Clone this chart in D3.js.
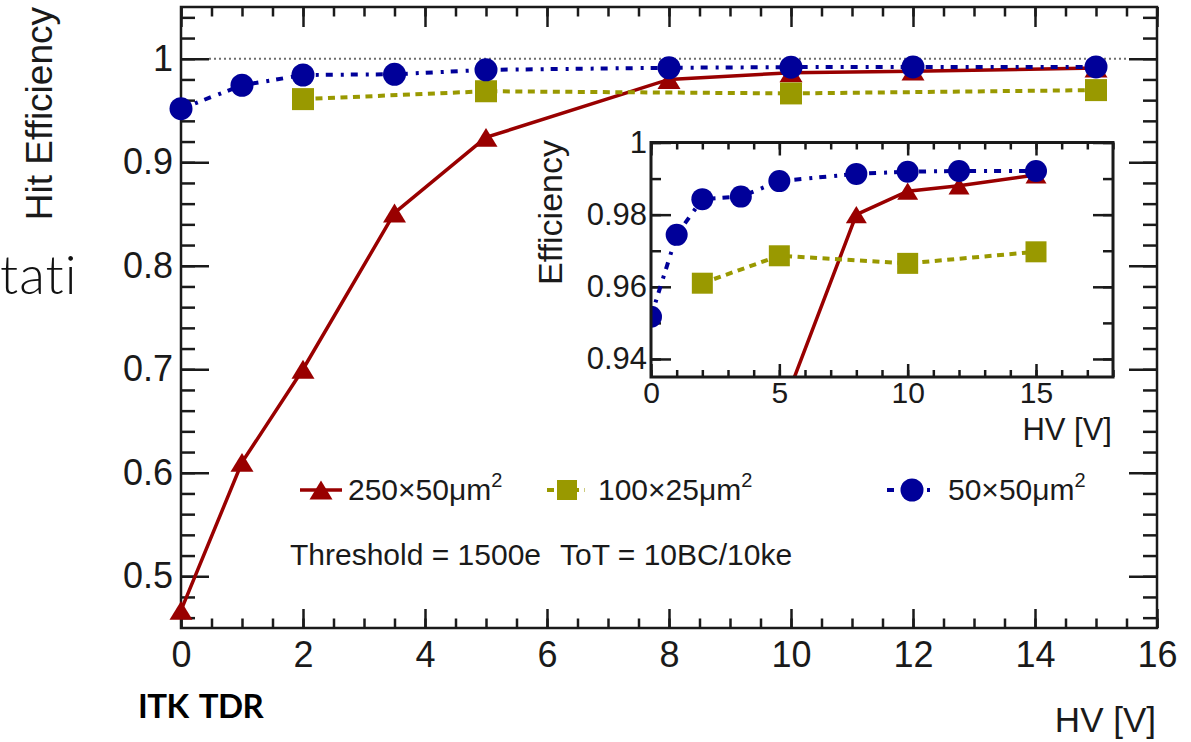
<!DOCTYPE html>
<html>
<head>
<meta charset="utf-8">
<script src="https://cdn.jsdelivr.net/npm/d3@7"></script>
<style>
  body { margin: 0; background: #fff; }
  svg { display: block; }
</style>
</head>
<body>
<svg id="chart" width="1191" height="742"></svg>
<script>
// Hit efficiency vs. bias voltage for three pixel geometries
const hv250  = [0, 1, 2, 3.5, 5, 8, 10, 12, 15];
const eff250 = [0.467, 0.61, 0.70, 0.851, 0.924, 0.980, 0.9865, 0.988, 0.991];
const hv100  = [2, 5, 10, 15];
const eff100 = [0.961, 0.9686, 0.9665, 0.9697];
const hv50   = [0, 1, 2, 3.5, 5, 8, 10, 12, 15];
const eff50  = [0.9517, 0.9744, 0.9843, 0.985, 0.9893, 0.9913, 0.9919, 0.9921, 0.9921];

const seriesLabels = ["250×50μm", "100×25μm", "50×50μm"];

const xTicks = [0, 2, 4, 6, 8, 10, 12, 14, 16];
const xTickLabels = ["0", "2", "4", "6", "8", "10", "12", "14", "16"];
const yTicks = [0.5, 0.6, 0.7, 0.8, 0.9, 1];
const yTickLabels = ["0.5", "0.6", "0.7", "0.8", "0.9", "1"];

const insetXTicks = [0, 5, 10, 15];
const insetXTickLabels = ["0", "5", "10", "15"];
const insetYTicks = [0.94, 0.96, 0.98, 1];
const insetYTickLabels = ["0.94", "0.96", "0.98", "1"];

const FONT = "'Liberation Sans', Arial, Helvetica, sans-serif";
const INK = "#1a1a1a";

const series = [
  { hv: hv250, eff: eff250, color: "#990000", shape: "triangle", dash: null,        width: 3.5 },
  { hv: hv100, eff: eff100, color: "#999900", shape: "square",   dash: "7,5.5",     width: 4 },
  { hv: hv50,  eff: eff50,  color: "#000099", shape: "circle",   dash: "7,8,3,7",   width: 4 }
];
series.forEach((s, i) => {
  s.label = seriesLabels[i];
  s.points = s.hv.map((v, j) => ({ hv: v, eff: s.eff[j] }));
});

const svg = d3.select("#chart");
svg.append("rect").attr("width", 1191).attr("height", 742).attr("fill", "#fff");

// ---------- helpers ----------
function marker(g, shape, cx, cy, size, color) {
  if (shape === "circle") {
    g.append("circle").attr("cx", cx).attr("cy", cy).attr("r", size / 2).attr("fill", color);
  } else if (shape === "square") {
    g.append("rect").attr("x", cx - size / 2).attr("y", cy - size / 2)
      .attr("width", size).attr("height", size).attr("fill", color);
  } else {
    const w = size, h = size * 0.82;
    g.append("path")
      .attr("d", `M${cx - w / 2},${cy + h / 2}L${cx + w / 2},${cy + h / 2}L${cx},${cy - h / 2}Z`)
      .attr("fill", color);
  }
}

function tickAxis(g, axisFn, scale, ticks, size, opts = {}) {
  const ax = axisFn(scale).tickValues(ticks).tickSize(-size)
    .tickPadding(opts.padding || 0)
    .tickFormat(opts.labels ? ((d, i) => opts.labels[i]) : () => "");
  const sel = g.append("g").attr("transform", opts.transform || null).call(ax);
  sel.select(".domain").remove();
  sel.selectAll(".tick line").attr("stroke", INK).attr("stroke-width", opts.tickWidth || 2.5);
  sel.selectAll(".tick text")
    .attr("fill", INK)
    .style("font-family", FONT)
    .style("font-size", (opts.fontSize || 36) + "px");
  return sel;
}

function minorRange(lo, hi, step) {
  const out = [];
  const n = Math.round((hi - lo) / step);
  for (let i = 0; i <= n; i++) out.push(+(lo + i * step).toFixed(6));
  return out;
}

// ---------- main frame ----------
const M = { left: 181, right: 1157, top: 7, bottom: 628 };
const x = d3.scaleLinear().domain([0, 16]).range([M.left, M.right]);
const y = d3.scaleLinear().domain([0.45, 1.05]).range([M.bottom, M.top]);

const main = svg.append("g");

// reference line at full efficiency
main.append("line")
  .attr("x1", M.left + 28).attr("x2", M.right - 28)
  .attr("y1", y(1)).attr("y2", y(1))
  .attr("stroke", "#6e6e6e").attr("stroke-width", 2)
  .attr("stroke-dasharray", "2,3");

// ticks (inward, on all four sides)
const xMinor = minorRange(0, 16, 0.5);
const yMinor = minorRange(0.46, 1.04, 0.02);
tickAxis(main, d3.axisBottom, x, xTicks, 19, { transform: `translate(0,${M.bottom})`, labels: xTickLabels, padding: 13, fontSize: 36 });
tickAxis(main, d3.axisBottom, x, xMinor, 9.5, { transform: `translate(0,${M.bottom})` });
tickAxis(main, d3.axisTop, x, xTicks, 20, { transform: `translate(0,${M.top})` });
tickAxis(main, d3.axisTop, x, xMinor, 9.5, { transform: `translate(0,${M.top})` });
tickAxis(main, d3.axisLeft, y, yTicks, 28, { transform: `translate(${M.left},0)`, labels: yTickLabels, padding: 8, fontSize: 36 });
tickAxis(main, d3.axisLeft, y, yMinor, 14, { transform: `translate(${M.left},0)` });
tickAxis(main, d3.axisRight, y, yTicks, 28, { transform: `translate(${M.right},0)` });
tickAxis(main, d3.axisRight, y, yMinor, 14, { transform: `translate(${M.right},0)` });

main.append("rect")
  .attr("x", M.left).attr("y", M.top)
  .attr("width", M.right - M.left).attr("height", M.bottom - M.top)
  .attr("fill", "none").attr("stroke", INK).attr("stroke-width", 2.5);

// axis titles
main.append("text")
  .attr("transform", `translate(52,${M.top}) rotate(-90)`)
  .attr("text-anchor", "end")
  .style("font-family", FONT).style("font-size", "37px").attr("fill", INK)
  .text("Hit Efficiency");
svg.append("text")
  .attr("x", 1156).attr("y", 732).attr("text-anchor", "end")
  .style("font-family", FONT).style("font-size", "35px").attr("fill", INK)
  .text("HV [V]");

// series in the main frame
const lineMain = d3.line().x(d => x(d.hv)).y(d => y(d.eff));
const mainSizes = { triangle: 23, square: 22, circle: 23 };
series.forEach(s => {
  main.append("path").datum(s.points)
    .attr("d", lineMain).attr("fill", "none")
    .attr("stroke", s.color).attr("stroke-width", s.width)
    .attr("stroke-dasharray", s.dash);
});
series.forEach(s => {
  const mg = main.append("g");
  s.points.forEach(p => marker(mg, s.shape, x(p.hv), y(p.eff), mainSizes[s.shape], s.color));
});

// ---------- legend ----------
const legendItems = [
  { s: series[0], x1: 300, x2: 342, mx: 321, tx: 348, size: 23 },
  { s: series[1], x1: 547, x2: 585, mx: 567, tx: 598, size: 20 },
  { s: series[2], x1: 887, x2: 930, mx: 912, tx: 948, size: 23 }
];
const lg = svg.append("g");
legendItems.forEach(it => {
  lg.append("line").attr("x1", it.x1).attr("x2", it.x2).attr("y1", 490).attr("y2", 490)
    .attr("stroke", it.s.color).attr("stroke-width", it.s.width)
    .attr("stroke-dasharray", it.s.dash);
  marker(lg, it.s.shape, it.mx, 490, it.size, it.s.color);
  const t = lg.append("text").attr("x", it.tx).attr("y", 500)
    .style("font-family", FONT).style("font-size", "30px").attr("fill", INK);
  t.append("tspan").text(it.s.label);
  t.append("tspan").attr("dy", -13).style("font-size", "20px").text("2");
});

svg.append("text").attr("x", 290).attr("y", 565)
  .style("font-family", FONT).style("font-size", "30px").attr("fill", INK)
  .text("Threshold = 1500e");
svg.append("text").attr("x", 560).attr("y", 565)
  .style("font-family", FONT).style("font-size", "30px").attr("fill", INK)
  .text("ToT = 10BC/10ke");

// ---------- inset: zoom on the plateau ----------
const I = { left: 651, right: 1113, top: 142.5, bottom: 377 };
const xi = d3.scaleLinear().domain([0, 18]).range([I.left, I.right]);
const yi = d3.scaleLinear().domain([0.935, 1]).range([I.bottom, I.top]);

const inset = svg.append("g");
inset.append("rect")
  .attr("x", I.left).attr("y", I.top)
  .attr("width", I.right - I.left).attr("height", I.bottom - I.top)
  .attr("fill", "#fff");

svg.append("defs").append("clipPath").attr("id", "insetClip")
  .append("rect")
  .attr("x", I.left).attr("y", I.top)
  .attr("width", I.right - I.left).attr("height", I.bottom - I.top);

const xiMinor = minorRange(0, 18, 1);
const yiMinor = minorRange(0.94, 1, 0.01);
tickAxis(inset, d3.axisBottom, xi, insetXTicks, 13, { transform: `translate(0,${I.bottom})`, labels: insetXTickLabels, padding: 5, fontSize: 30, tickWidth: 2.5 });
tickAxis(inset, d3.axisBottom, xi, xiMinor, 7, { transform: `translate(0,${I.bottom})` });
tickAxis(inset, d3.axisTop, xi, insetXTicks, 13, { transform: `translate(0,${I.top})` });
tickAxis(inset, d3.axisTop, xi, xiMinor, 7, { transform: `translate(0,${I.top})` });
tickAxis(inset, d3.axisLeft, yi, insetYTicks, 20, { transform: `translate(${I.left},0)`, labels: insetYTickLabels, padding: 4, fontSize: 31 });
tickAxis(inset, d3.axisLeft, yi, yiMinor, 10, { transform: `translate(${I.left},0)` });
tickAxis(inset, d3.axisRight, yi, insetYTicks, 20, { transform: `translate(${I.right},0)` });
tickAxis(inset, d3.axisRight, yi, yiMinor, 10, { transform: `translate(${I.right},0)` });

const plotI = inset.append("g").attr("clip-path", "url(#insetClip)");
const lineInset = d3.line().x(d => xi(d.hv)).y(d => yi(d.eff));
const insetSizes = { triangle: 21, square: 21, circle: 22 };
series.forEach(s => {
  plotI.append("path").datum(s.points)
    .attr("d", lineInset).attr("fill", "none")
    .attr("stroke", s.color).attr("stroke-width", s.width)
    .attr("stroke-dasharray", s.dash);
});
series.forEach(s => {
  s.points.forEach(p => marker(plotI, s.shape, xi(p.hv), yi(p.eff), insetSizes[s.shape], s.color));
});

inset.append("rect")
  .attr("x", I.left).attr("y", I.top)
  .attr("width", I.right - I.left).attr("height", I.bottom - I.top)
  .attr("fill", "none").attr("stroke", INK).attr("stroke-width", 3);

inset.append("text")
  .attr("transform", `translate(562,140) rotate(-90)`)
  .attr("text-anchor", "end")
  .style("font-family", FONT).style("font-size", "34px").attr("fill", INK)
  .text("Efficiency");
inset.append("text")
  .attr("x", 1112).attr("y", 440).attr("text-anchor", "end")
  .style("font-family", FONT).style("font-size", "31px").attr("fill", INK)
  .text("HV [V]");

// ---------- page annotations ----------
svg.append("text").attr("x", 0).attr("y", 294)
  .style("font-family", "Lato, 'Noto Sans', sans-serif").style("font-weight", 300)
  .style("font-size", "53px").style("letter-spacing", "1px").attr("fill", "#111")
  .text("tati");
svg.append("text").attr("x", 138).attr("y", 718)
  .style("font-family", "Lato, 'Noto Sans', sans-serif").style("font-weight", 700)
  .style("font-size", "33px").style("letter-spacing", "-0.6px").style("word-spacing", "4px")
  .attr("fill", "#000")
  .text("ITK TDR");
</script>
</body>
</html>
